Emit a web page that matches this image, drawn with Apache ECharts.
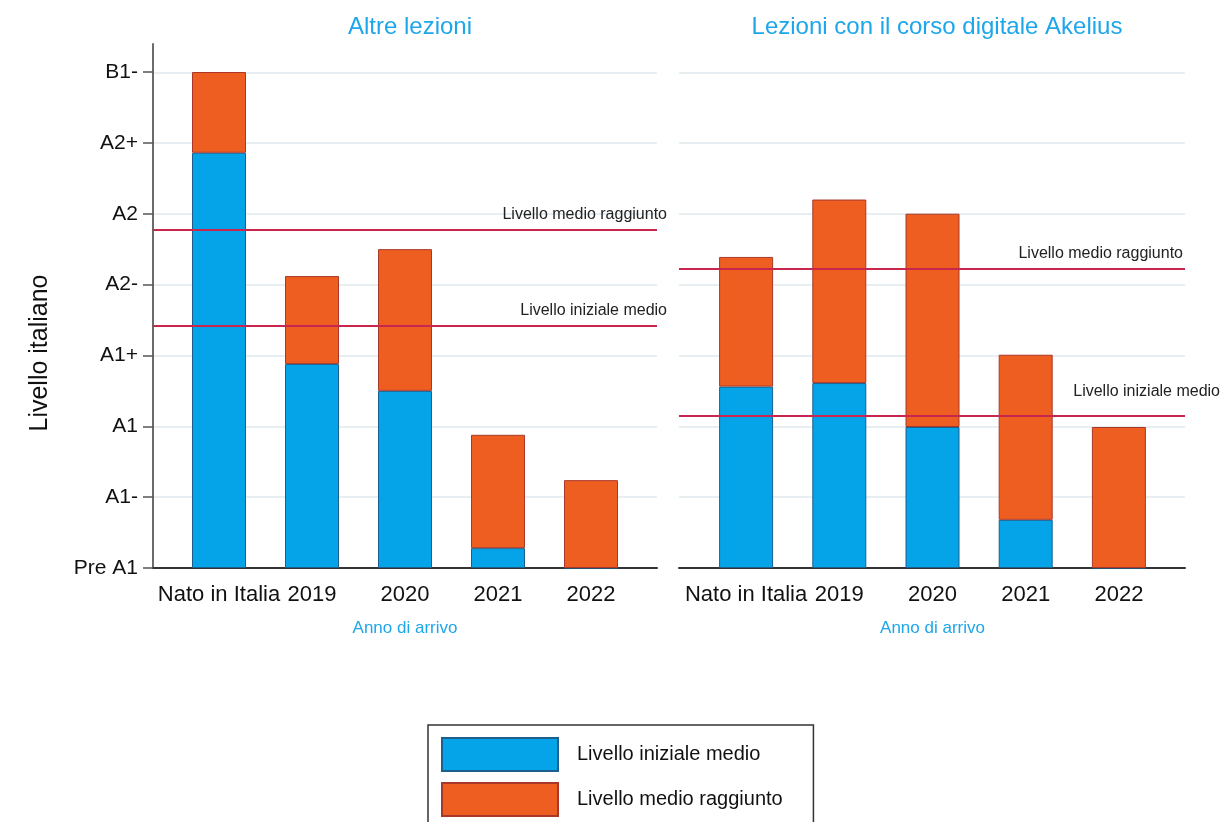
<!DOCTYPE html>
<html>
<head>
<meta charset="utf-8">
<script src="https://cdn.jsdelivr.net/npm/echarts@6/dist/echarts.min.js"></script>
<style>
html, body { margin: 0; padding: 0; background: #fff; }
#livelli { width: 1225px; height: 822px; }
</style>
</head>
<body>
<div id="livelli"></div>
<script>
// dati
var categorie = ['Nato in Italia', '2019', '2020', '2021', '2022'];
var livelli = ['Pre A1', 'A1-', 'A1', 'A1+', 'A2-', 'A2', 'A2+', 'B1-'];

var altreIniziale = [5.86, 2.88, 2.50, 0.28, 0];
var altreGuadagno = [1.14, 1.24, 2.00, 1.60, 1.24];
var akeliusIniziale = [2.56, 2.61, 1.99, 0.68, 0];
var akeliusGuadagno = [1.83, 2.59, 3.01, 2.33, 1.99];

// medie: [raggiunto, iniziale]
var nomiMedie = ['Livello medio raggiunto', 'Livello iniziale medio'];
var altreMedie = [4.77, 3.42];
var akeliusMedie = [4.23, 2.15];

var nomiSerie = ['Livello iniziale medio', 'Livello medio raggiunto'];

var BLU = '#05a4e8', ARANCIO = '#ee5e20', ROSSO = '#c8264e';
var FONT = 'Liberation Sans, Arial, sans-serif';

var chartLivelli = echarts.init(document.getElementById('livelli'));

function mediaLines(valori, offsets) {
	return valori.map(function (v, i) {
		return {
			yAxis: v,
			label: { formatter: nomiMedie[i], offset: offsets[i] }
		};
	});
}

function sfondoYAxis(idx) {
	return {
		type: 'value', gridIndex: idx, min: 0, max: 7.4, interval: 1,
		axisLabel: { show: false },
		axisTick: { show: false },
		axisLine: { show: idx === 0, lineStyle: { color: '#6b6b6b', width: 2 } },
		splitLine: { show: true, showMaxLine: false, lineStyle: { color: '#e7eff3', width: 2 } }
	};
}

function barreYAxis(idx, visibile) {
	return {
		type: 'value', gridIndex: idx, min: 0, max: 7, interval: 1,
		offset: 19.5,
		name: visibile ? 'Livello italiano' : '',
		nameLocation: 'middle',
		nameRotate: 90,
		nameGap: 100,
		nameTextStyle: { fontSize: 25, color: '#111', fontFamily: FONT, padding: [0, 66, 0, 0] },
		axisLine: { show: false },
		axisTick: { show: visibile, inside: false, length: 10, lineStyle: { color: '#555', width: 1.5 } },
		axisLabel: {
			show: visibile, fontSize: 21, color: '#111', fontFamily: FONT, margin: 15,
			formatter: function (v) { return livelli[v] || ''; }
		},
		splitLine: { show: false }
	};
}

function barreXAxis(idx) {
	return {
		type: 'category', gridIndex: idx, data: categorie,
		name: 'Anno di arrivo', nameLocation: 'middle', nameGap: 52,
		nameTextStyle: { fontSize: 17, color: '#1ea6ea', fontFamily: FONT },
		axisLine: { show: false },
		axisTick: { show: false },
		axisLabel: { interval: 0, fontSize: 22, color: '#111', fontFamily: FONT, margin: 16 }
	};
}

function sfondoXAxis(idx) {
	return {
		type: 'value', gridIndex: idx, min: 0, max: 1,
		axisLine: { show: true, onZero: false, lineStyle: { color: '#333', width: 2 } },
		axisTick: { show: false },
		axisLabel: { show: false },
		splitLine: { show: false }
	};
}

function barra(nome, dati, asse, colore, bordo) {
	return {
		name: nome, type: 'bar', stack: 'p' + asse,
		xAxisIndex: asse, yAxisIndex: asse,
		barWidth: 54, z: 3,
		itemStyle: { color: colore, borderColor: bordo, borderWidth: 1 },
		data: dati
	};
}

function linee(asse, valori, offsets) {
	return {
		name: 'medie' + asse, type: 'line', xAxisIndex: asse, yAxisIndex: asse,
		data: [], z: 1, silent: true,
		markLine: {
			silent: true, symbol: 'none',
			lineStyle: { color: ROSSO, width: 2, type: 'solid' },
			label: { position: 'insideEndTop', distance: 5, fontSize: 16, color: '#222', fontFamily: FONT },
			data: mediaLines(valori, offsets)
		}
	};
}

// legenda: due blocchi, il primo porta il riquadro
var legendaBase = {
	left: 428,
	itemWidth: 116, itemHeight: 33,
	icon: 'rect',
	selectedMode: false,
	textStyle: { fontSize: 20, color: '#111', fontFamily: FONT, padding: [0, 0, 0, 14] }
};

var optionLivelli = {
	animation: false,
	backgroundColor: '#fff',
	title: [
		{ text: 'Altre lezioni', left: 405, top: 10, textAlign: 'center',
			textStyle: { fontSize: 24, fontWeight: 'normal', color: '#1ea6ea', fontFamily: FONT } },
		{ text: 'Lezioni con il corso digitale Akelius', left: 932, top: 10, textAlign: 'center',
			textStyle: { fontSize: 24, fontWeight: 'normal', color: '#1ea6ea', fontFamily: FONT } }
	],
	legend: [
		Object.assign({}, legendaBase, {
			data: [nomiSerie[0]], top: 725,
			padding: [12, 53, 80, 13],
			borderColor: '#333', borderWidth: 1.5
		}),
		Object.assign({}, legendaBase, {
			data: [nomiSerie[1]], top: 782,
			padding: [0, 0, 0, 13]
		})
	],
	grid: [
		{ left: 153, top: 44, width: 504, height: 524 },
		{ left: 172.5, top: 72, width: 465, height: 496 },
		{ left: 679, top: 44, width: 506, height: 524 },
		{ left: 699.5, top: 72, width: 466, height: 496 }
	],
	xAxis: [sfondoXAxis(0), barreXAxis(1), sfondoXAxis(2), barreXAxis(3)],
	yAxis: [sfondoYAxis(0), barreYAxis(1, true), sfondoYAxis(2), barreYAxis(3, false)],
	series: [
		linee(0, altreMedie, [[15, -3], [15, -2]]),
		linee(2, akeliusMedie, [[3, -2], [40, -11]]),
		barra(nomiSerie[0], altreIniziale, 1, BLU, '#1d5f8c'),
		barra(nomiSerie[1], altreGuadagno, 1, ARANCIO, '#a8392a'),
		barra(nomiSerie[0], akeliusIniziale, 3, BLU, '#1d5f8c'),
		barra(nomiSerie[1], akeliusGuadagno, 3, ARANCIO, '#a8392a')
	]
};

chartLivelli.setOption(optionLivelli);
window.onresize = chartLivelli.resize;
</script>
</body>
</html>
